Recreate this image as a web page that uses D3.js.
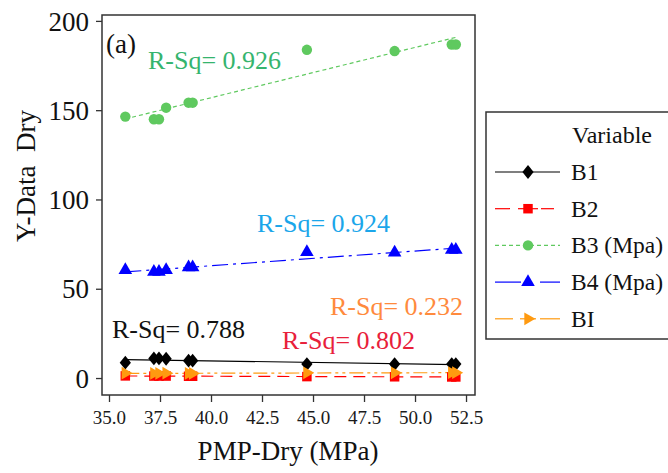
<!DOCTYPE html>
<html><head><meta charset="utf-8">
<script src="https://cdn.jsdelivr.net/npm/d3@7"></script>
<style>body{margin:0;background:#fff;} text{font-family:"Liberation Serif","Times New Roman",serif;}</style>
</head><body><svg id="c" width="668" height="473"></svg>
<script>
const xValues = [35.8, 37.2, 37.45, 37.8, 38.9, 39.1, 44.7, 49.0, 51.8, 52.0];
const seriesNames = ["B1", "B2", "B3 (Mpa)", "B4 (Mpa)", "BI"];
const b1 = [8.6, 11.0, 11.0, 10.8, 9.7, 9.7, 7.8, 7.8, 7.8, 7.8];
const b2 = [1.2, 1.1, 1.1, 1.1, 1.0, 1.0, 0.8, 0.7, 0.6, 0.6];
const b3 = [146.4, 144.9, 144.9, 151.4, 154.2, 154.2, 183.8, 183.1, 186.8, 186.8];
const b4 = [60.5, 59.5, 59.5, 60.5, 62.0, 62.0, 70.5, 70.3, 71.8, 71.8];
const bi = [2.7, 2.6, 2.6, 2.7, 2.6, 2.6, 2.9, 2.9, 3.0, 3.0];
const rsqLabels = ["R-Sq= 0.788", "R-Sq= 0.802", "R-Sq= 0.926", "R-Sq= 0.924", "R-Sq= 0.232"];
const xTicks = [35.0, 37.5, 40.0, 42.5, 45.0, 47.5, 50.0, 52.5];
const yTicks = [0, 50, 100, 150, 200];

const values = [b1, b2, b3, b4, bi];
const styles = [
  {mark:"#000", line:"#000", txt:"#111", dash:null, sym:d3.symbolDiamond2, size:100, rot:0, lx:112, ly:338,
   leg:[[495,560,null]]},
  {mark:"#ff0000", line:"#ff0000", txt:"#e8203a", dash:"12,7", sym:d3.symbolSquare, size:90, rot:0, lx:282, ly:349,
   leg:[[495,510,null],[518,538,null],[541,554,null]]},
  {mark:"#5fc95f", line:"#5fc95f", txt:"#35b46e", dash:"4,3", sym:d3.symbolCircle, size:85, rot:0, lx:148, ly:69,
   leg:[[495,560,"4,3"]]},
  {mark:"#0000ff", line:"#0000ff", txt:"#1ba6ea", dash:"16,5,3,5", sym:d3.symbolTriangle, size:80, rot:0, lx:257, ly:232,
   leg:[[495,521,null],[540,560,null]]},
  {mark:"#ff9a10", line:"#ff9a10", txt:"#ff8a3d", dash:"14,4,3,4,3,4", sym:d3.symbolTriangle, size:70, rot:90, lx:330, ly:315,
   leg:[[495,513,null],[520,536,null],[540,560,null]]}
];

const svg = d3.select("#c");
const L=102, R=475, T=15, B=395;
const x = d3.scaleLinear().domain([34.657, 52.94]).range([L, R]);
const y = d3.scaleLinear().domain([-9.5, 203.3]).range([B, T]);

svg.append("rect").attr("x",L).attr("y",T).attr("width",R-L).attr("height",B-T)
  .attr("fill","#fff").attr("stroke","#333").attr("stroke-width",1.5);

const xa = svg.append("g").attr("transform",`translate(0,${B})`)
  .call(d3.axisBottom(x).tickValues(xTicks).tickFormat(d3.format(".1f")).tickSize(7).tickSizeOuter(0));
xa.select(".domain").remove();
xa.selectAll("line").attr("stroke","#333").attr("stroke-width",1.3);
xa.selectAll("text").attr("font-size",19).attr("fill","#1a1a1a").attr("dy",0).attr("y",29)
  .style("font-family","'Liberation Serif',serif");

const ya = svg.append("g").attr("transform",`translate(${L},0)`)
  .call(d3.axisLeft(y).tickValues(yTicks).tickSize(6).tickSizeOuter(0));
ya.select(".domain").remove();
ya.selectAll("line").attr("stroke","#333").attr("stroke-width",1.3);
ya.selectAll("text").attr("font-size",27).attr("fill","#111").attr("x",-13).attr("dy","0.34em")
  .style("font-family","'Liberation Serif',serif");

svg.append("text").attr("x",288).attr("y",460).attr("text-anchor","middle")
  .attr("font-size",27).attr("fill","#111").text("PMP-Dry (MPa)");
svg.append("text").attr("transform","translate(35,176) rotate(-90)").attr("text-anchor","middle")
  .attr("font-size",27).attr("fill","#111").style("white-space","pre").text("Y-Data  Dry");

function fit(xs, ys){
  const mx=d3.mean(xs), my=d3.mean(ys);
  let sxy=0,sxx=0; xs.forEach((v,i)=>{sxy+=(v-mx)*(ys[i]-my); sxx+=(v-mx)*(v-mx);});
  const b=sxy/sxx; return v=>my+b*(v-mx);
}
const x0=d3.min(xValues), x1=d3.max(xValues);
values.forEach((vals,k)=>{
  const f=fit(xValues, vals), s=styles[k];
  svg.append("line").attr("x1",x(x0)).attr("x2",x(x1)).attr("y1",y(f(x0))).attr("y2",y(f(x1)))
    .attr("stroke",s.line).attr("stroke-width",1.2).attr("stroke-dasharray",s.dash);
});
values.forEach((vals,k)=>{
  const s=styles[k];
  svg.append("g").selectAll("path").data(vals).join("path")
    .attr("d",d3.symbol().type(s.sym).size(s.size))
    .attr("transform",(d,i)=>`translate(${x(xValues[i])},${y(d)}) rotate(${s.rot}) scale(${k===0?'0.9,1.1':'1'})`)
    .attr("fill",s.mark);
});
rsqLabels.forEach((t,k)=>{
  svg.append("text").attr("x",styles[k].lx).attr("y",styles[k].ly).attr("font-size",26)
    .attr("fill",styles[k].txt).text(t);
});
svg.append("text").attr("x",106).attr("y",53).attr("font-size",27).attr("fill","#111").text("(a)");

const lg = svg.append("g");
lg.append("rect").attr("x",486).attr("y",112).attr("width",200).attr("height",227)
  .attr("fill","#fff").attr("stroke","#333").attr("stroke-width",1.5);
lg.append("text").attr("x",572).attr("y",143).attr("font-size",24).attr("fill","#111").text("Variable");
seriesNames.forEach((n,k)=>{
  const s=styles[k], cy=172+k*36.7;
  s.leg.forEach(([a,b,da])=>{
    lg.append("line").attr("x1",a).attr("x2",b).attr("y1",cy).attr("y2",cy)
      .attr("stroke",s.line).attr("stroke-width",1.2).attr("stroke-dasharray",da);
  });
  lg.append("path").attr("d",d3.symbol().type(s.sym).size(s.size))
    .attr("transform",`translate(528,${cy}) rotate(${s.rot}) scale(${k===0?'0.9,1.1':'1'})`).attr("fill",s.mark);
  lg.append("text").attr("x",571).attr("y",cy+8).attr("font-size",23.5).attr("fill","#111").text(n);
});
</script></body></html>
